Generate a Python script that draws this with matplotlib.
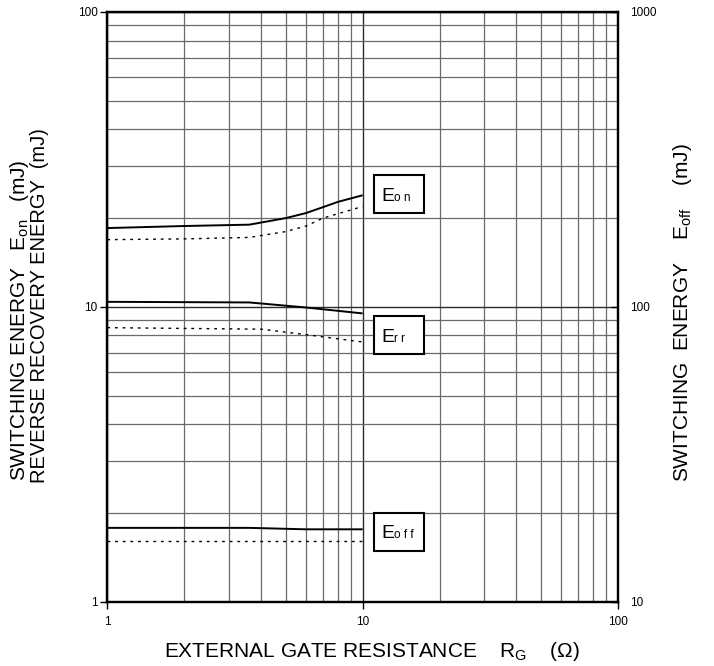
import matplotlib
matplotlib.use("Agg")
import matplotlib.pyplot as plt
from matplotlib.patches import Rectangle
from matplotlib.ticker import FixedLocator, FixedFormatter, NullFormatter

plt.rcParams['font.family'] = ['Liberation Sans', 'DejaVu Sans']
plt.rcParams['mathtext.fontset'] = 'custom'
plt.rcParams['mathtext.rm'] = 'Liberation Sans'
plt.rcParams['mathtext.default'] = 'regular'

# ---- data (energies in mJ vs external gate resistance in ohm) ----
rg_eon = [1, 2, 3.6, 5, 6, 6.8, 8, 10]
eon_solid = [18.5, 18.8, 19.0, 20.0, 20.8, 21.6, 22.7, 23.9]
rg_eon_dot = [1, 2, 3.6, 5, 6, 7, 10]
eon_dotted = [16.9, 17.0, 17.2, 18.0, 18.8, 20.0, 21.9]

rg_err = [1, 3.6, 6, 10]
err_solid = [10.4, 10.35, 9.95, 9.5]
rg_err_dot = [1, 4, 6, 10]
err_dotted = [8.5, 8.4, 8.05, 7.6]

# E_off is read on the right-hand axis (10..1000 mJ)
rg_eoff = [1, 3.6, 6, 10]
eoff_solid = [17.8, 17.8, 17.6, 17.6]
rg_eoff_dot = [1, 10]
eoff_dotted = [16.1, 16.1]

x_ticks = [1, 10, 100]
x_ticklabels = ["1", "10", "100"]
yl_ticks = [1, 10, 100]
yl_ticklabels = ["1", "10", "100"]
yr_ticks = [10, 100, 1000]
yr_ticklabels = ["10", "100", "1000"]

W, H = 714, 666
fig = plt.figure(figsize=(W / 100, H / 100), dpi=100)
L, R, T, B = 107.3, 618.0, 12.0, 601.7
ax = fig.add_axes([L / W, 1 - B / H, (R - L) / W, (B - T) / H])

ax.set_xscale('log')
ax.set_yscale('log')
ax.set_xlim(1, 100)
ax.set_ylim(1, 100)

minor = [m * 10 ** e for e in range(0, 2) for m in range(2, 10)]
ax.xaxis.set_major_locator(FixedLocator(x_ticks))
ax.xaxis.set_major_formatter(FixedFormatter(x_ticklabels))
ax.xaxis.set_minor_locator(FixedLocator(minor))
ax.xaxis.set_minor_formatter(NullFormatter())
ax.yaxis.set_major_locator(FixedLocator(yl_ticks))
ax.yaxis.set_major_formatter(FixedFormatter(yl_ticklabels))
ax.yaxis.set_minor_locator(FixedLocator(minor))
ax.yaxis.set_minor_formatter(NullFormatter())

ax.grid(True, which='minor', color='#6a6a6a', lw=0.9)
ax.grid(True, which='major', color='#2a2a2a', lw=1.0)
ax.tick_params(which='major', direction='out', length=5, width=1.0,
               labelsize=8.5, color='black')
ax.tick_params(axis='y', which='major', pad=2)
ax.tick_params(axis='x', which='major', pad=5)
ax.tick_params(which='minor', length=0)
for s in ax.spines.values():
    s.set_linewidth(1.6)

ax.plot(rg_eon, eon_solid, color='black', lw=1.4, solid_capstyle='butt')
ax.plot(rg_eon_dot, eon_dotted, color='black', lw=1.0, ls=(0, (2, 3.5)))
ax.plot(rg_err, err_solid, color='black', lw=1.4, solid_capstyle='butt')
ax.plot(rg_err_dot, err_dotted, color='black', lw=1.0, ls=(0, (2, 3.5)))

ax2 = ax.twinx()
ax2.set_yscale('log')
ax2.set_ylim(10, 1000)
ax2.yaxis.set_major_locator(FixedLocator(yr_ticks))
ax2.yaxis.set_major_formatter(FixedFormatter(yr_ticklabels))
ax2.yaxis.set_minor_locator(FixedLocator([]))
ax2.tick_params(axis='y', which='major', direction='in', length=5, width=1.0,
                labelsize=8.5, pad=9)
for s in ax2.spines.values():
    s.set_linewidth(1.6)

ax2.plot(rg_eoff, eoff_solid, color='black', lw=1.4, solid_capstyle='butt')
ax2.plot(rg_eoff_dot, eoff_dotted, color='black', lw=1.0, ls=(0, (2, 3.5)))

# curve name boxes (axes-fraction layout)
def name_box(y_bottom_px, sub):
    x0 = (374 - L) / (R - L)
    x1 = (424 - L) / (R - L)
    yb = (B - (y_bottom_px)) / (B - T)
    yt = (B - (y_bottom_px - 38)) / (B - T)
    ax2.add_patch(Rectangle((x0, yb), x1 - x0, yt - yb, transform=ax2.transAxes,
                            facecolor='white', edgecolor='black', lw=1.5,
                            zorder=10, clip_on=False))
    base = (B - (y_bottom_px - 12.3)) / (B - T)
    ax2.text((381 - L) / (R - L), base, "E", transform=ax2.transAxes,
             fontsize=14, va='baseline', ha='left', zorder=11)
    ax2.text((394 - L) / (R - L), base, sub, transform=ax2.transAxes,
             fontsize=8.5, va='baseline', ha='left', zorder=11)

name_box(213, "o n")
name_box(354, "r r")
name_box(550.7, "o f f")

# axis titles
fig.text(372 / W, 9 / H, r"EXTERNAL GATE RESISTANCE    $\mathregular{R_G}$    (Ω)",
         ha='center', va='baseline', fontsize=15)
fig.text(25 / W, 1 - 481 / H, r"SWITCHING ENERGY   $\mathregular{E_{on}}$   (mJ)",
         rotation=90, rotation_mode='anchor', ha='left', va='baseline', fontsize=15)
fig.text(45 / W, 1 - 483 / H, "REVERSE RECOVERY ENERGY  (mJ)",
         rotation=90, rotation_mode='anchor', ha='left', va='baseline', fontsize=14.5)
fig.text(688 / W, 1 - 482 / H, r"SWITCHING  ENERGY    $\mathregular{E_{off}}$    (mJ)",
         rotation=90, rotation_mode='anchor', ha='left', va='baseline', fontsize=15)

fig.savefig("out.png", dpi=100, facecolor='white')
